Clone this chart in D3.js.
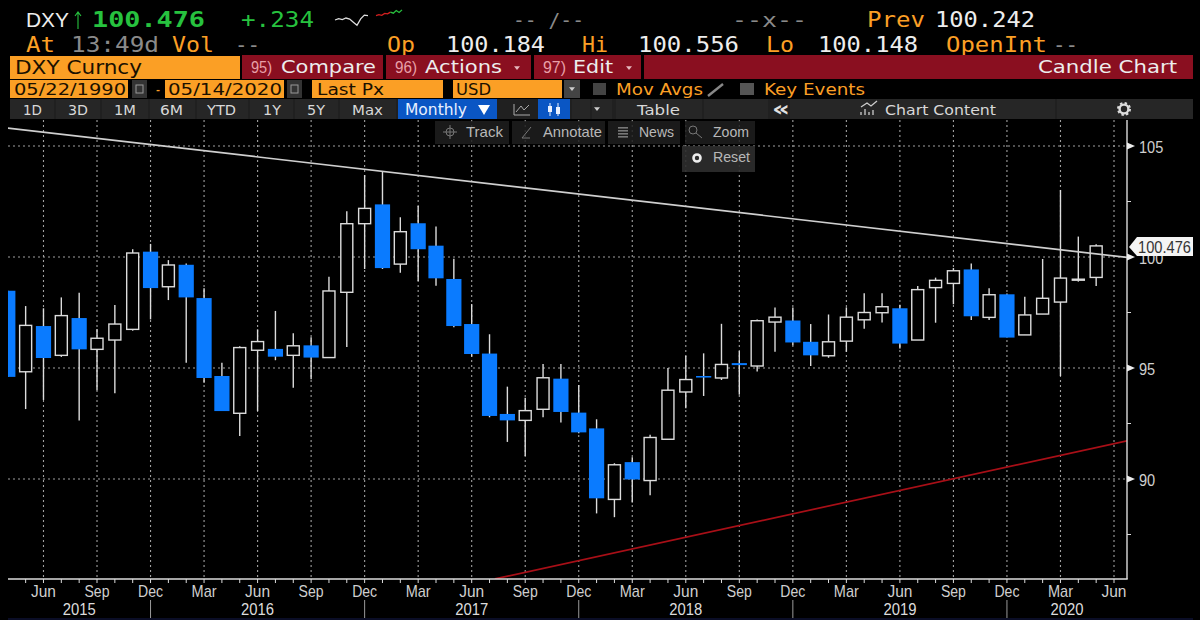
<!DOCTYPE html>
<html><head><meta charset="utf-8">
<script src="https://cdn.jsdelivr.net/npm/d3@7"></script>
<style>html,body{margin:0;padding:0;background:#000;overflow:hidden}svg{display:block}</style>
</head><body><svg id="c" width="1200" height="620"></svg>
<script>
// month labels, first candle = Apr 2015, last = May 2020
const months = ["Apr","May","Jun","Jul","Aug","Sep","Oct","Nov","Dec","Jan","Feb","Mar"];
const opens  = [98.48,94.83,96.89,95.57,97.25,95.84,96.26,96.74,100.24,98.66,99.65,98.15,94.64,92.96,95.80,95.86,95.57,
                96.02,95.47,98.41,101.50,102.37,99.68,101.52,100.51,99.01,96.98,95.65,92.93,92.64,93.14,94.52,92.99,92.28,
                89.08,90.76,89.93,91.79,93.92,94.64,94.55,95.22,95.09,97.07,97.14,96.18,95.55,96.21,97.17,97.49,97.69,
                96.26,98.62,98.81,99.44,97.28,98.32,96.49,97.43,97.97,98.96,99.08];
const closes = [94.60,96.92,95.45,97.36,95.84,96.34,96.98,100.18,98.60,99.64,98.18,94.55,93.06,95.92,96.19,95.51,96.00,
                95.47,98.47,101.50,102.19,99.50,101.14,100.35,99.04,96.89,95.63,92.84,92.64,93.08,94.56,93.02,92.10,89.13,
                90.64,89.98,91.87,94.00,94.48,94.57,95.16,95.13,97.13,97.29,96.15,95.57,96.18,97.29,97.50,97.76,96.10,
                98.53,98.95,99.38,97.33,98.30,96.37,97.39,98.14,99.05,99.00,100.50];
const highs  = [98.48,97.79,97.69,98.18,98.39,96.76,97.84,100.35,100.59,99.86,99.71,98.59,95.24,95.98,96.74,97.57,96.56,
                96.38,99.11,102.06,103.69,103.84,101.79,102.30,101.37,99.92,97.88,96.52,94.16,93.66,95.18,95.18,94.23,92.69,
                90.71,90.98,91.99,95.00,95.55,95.66,96.99,95.76,97.19,97.73,97.73,96.98,97.41,97.73,98.37,98.37,97.85,
                98.69,99.07,99.50,99.71,98.59,98.36,98.21,99.91,103.02,100.92,100.57];
const lows   = [94.60,93.15,93.56,95.50,92.63,94.00,93.86,96.68,97.19,98.06,95.24,94.34,93.06,91.94,93.06,95.35,94.11,
                94.49,95.47,95.95,99.46,99.46,99.29,98.92,98.71,96.83,95.51,92.78,91.67,91.04,92.78,92.54,92.06,88.45,
                88.28,88.94,89.27,91.79,93.19,93.74,94.46,93.80,94.84,95.73,96.03,95.09,95.46,95.73,96.77,97.05,95.88,
                96.26,97.04,97.87,97.16,97.16,96.37,96.49,97.43,94.64,98.89,98.69];
const yTicks = [105,100,95,90];
const yMinor = [102.5,97.5,92.5,87.5];
const monthTicks = ["Jun","Sep","Dec","Mar"];
const years = ["2015","2016","2017","2018","2019","2020"];
const whiteTrendIdx = [0,62.73], whiteTrendVal = [105.81,99.98];
const redTrendIdx = [27.3,62.73], redTrendVal = [85.5,91.72];
const sparkA = [5,5.6,5.2,5.9,5.4,4,2.6,5.5,7.2,7];
const sparkB = [7,7.4,7.1,8,7.8,8.6,8.1,9.3,8.4,9.6];
const lastPx = "100.476";

const ORANGE="#fb9f25", RED="#8a0f20", BLUE="#0a7bff", LINE="#dcdcdc", GREEN="#27c23f", GREY="#8a8a8a", WHITE="#ededed";
const svg=d3.select("#c");
svg.append("rect").attr("width",1200).attr("height",620).attr("fill","#000");

const x=d3.scaleLinear().domain([0,62]).range([7.8,1114]);
const y=d3.scaleLinear().domain([90,105]).range([479,146]);
const L=8,R=1127,B=579,T=120;
const idx=opens.map((_,i)=>i);
const mName=i=>months[i%12];

svg.append("clipPath").attr("id","plot").append("rect").attr("x",L).attr("y",T).attr("width",R-L).attr("height",B-T);

// grid
const grid=svg.append("g").attr("stroke","#a0a0a0").attr("stroke-width",1.1).attr("stroke-dasharray","2 3");
const tickIdx=d3.range(0,63).filter(i=>monthTicks.includes(mName(i)));
grid.selectAll(".v").data(tickIdx).join("line").attr("x1",x).attr("x2",x).attr("y1",T).attr("y2",B);
grid.selectAll(".h").data(yTicks).join("line").attr("x1",L).attr("x2",R).attr("y1",y).attr("y2",y);

// candles
const g=svg.append("g").attr("clip-path","url(#plot)");
g.selectAll(".w").data(idx).join("line").attr("x1",x).attr("x2",x)
 .attr("y1",i=>y(highs[i])).attr("y2",i=>y(lows[i])).attr("stroke",LINE).attr("stroke-width",1.4);
g.selectAll(".b").data(idx).join("rect")
 .attr("x",i=>x(i)-(closes[i]>=opens[i]?6:7.6))
 .attr("width",i=>closes[i]>=opens[i]?12:15.2)
 .attr("y",i=>y(Math.max(opens[i],closes[i])))
 .attr("height",i=>Math.max(1,Math.abs(y(opens[i])-y(closes[i]))))
 .attr("fill",i=>closes[i]>=opens[i]?"#000":BLUE)
 .attr("stroke",i=>closes[i]>=opens[i]?LINE:"none").attr("stroke-width",1.4);

// trend lines
const tl=d3.line().x(d=>x(d[0])).y(d=>y(d[1]));
g.append("path").attr("d",tl(d3.zip(whiteTrendIdx,whiteTrendVal))).attr("fill","none").attr("stroke","#cfcfcf").attr("stroke-width",1.7);
g.append("path").attr("d",tl(d3.zip(redTrendIdx,redTrendVal))).attr("fill","none").attr("stroke","#a80f17").attr("stroke-width",1.7);

// axes
svg.append("line").attr("x1",L).attr("x2",R+.7).attr("y1",B).attr("y2",B).attr("stroke",LINE).attr("stroke-width",1.4);
svg.append("line").attr("x1",R).attr("x2",R).attr("y1",T).attr("y2",B).attr("stroke",LINE).attr("stroke-width",1.4);
svg.append("g").selectAll("line").data(d3.range(1,63)).join("line")
 .attr("x1",x).attr("x2",x).attr("y1",B).attr("y2",B+4).attr("stroke",LINE).attr("stroke-width",1);
svg.append("g").selectAll("line").data(yMinor).join("line")
 .attr("x1",R).attr("x2",R+4).attr("y1",y).attr("y2",y).attr("stroke",LINE);
svg.append("g").selectAll("path").data(yTicks).join("path")
 .attr("d",d=>`M${R},${y(d)-3.5}L${R+8},${y(d)}L${R},${y(d)+3.5}Z`).attr("fill",WHITE);

const AX="'Liberation Sans'";
svg.append("g").selectAll("text").data(yTicks).join("text").attr("x",R+12).attr("y",d=>y(d)+6.5)
 .attr("font-family",AX).attr("font-size",17).attr("fill","#cfcfcf").attr("textLength",d=>String(d).length*8.1).attr("lengthAdjust","spacingAndGlyphs").text(d=>d);
svg.append("g").selectAll("text").data(tickIdx).join("text").attr("x",d=>x(d)-12.5).attr("y",597)
 .attr("font-family",AX).attr("font-size",17).attr("fill","#cfcfcf").attr("textLength",25).attr("lengthAdjust","spacingAndGlyphs").text(mName);
// year bands start at each December
const decIdx=tickIdx.filter(i=>mName(i)==="Dec");
svg.append("g").selectAll("line").data(decIdx).join("line").attr("x1",x).attr("x2",x).attr("y1",600).attr("y2",618).attr("stroke","#9a9a9a");
const edges=[L,...decIdx.map(d=>x(d)),R];
svg.append("g").selectAll("text").data(years).join("text").attr("x",(d,i)=>(edges[i]+edges[i+1])/2-16.5).attr("y",615)
 .attr("font-family",AX).attr("font-size",17).attr("fill","#dcdcdc").attr("textLength",33).attr("lengthAdjust","spacingAndGlyphs").text(d=>d);
svg.append("rect").attr("x",8).attr("y",618).attr("width",1185).attr("height",2).attr("fill","#0a0d26");

// last price flag
svg.append("path").attr("d","M1129,247L1137,237H1193V256H1137Z").attr("fill","#f4f4f4");
svg.append("text").attr("x",1138).attr("y",253).attr("font-family",AX).attr("font-size",17)
 .attr("textLength",53).attr("lengthAdjust","spacingAndGlyphs").attr("fill","#333").text(lastPx);

// header helpers
function box(a,b,t,bt,c,o){return svg.append("rect").attr("x",a).attr("width",b-a).attr("y",t).attr("height",bt-t).attr("fill",c).attr("opacity",o==null?1:o);}
function lab(s,a,b,base,size,c,fam,w){return svg.append("text").attr("x",a).attr("y",base).attr("font-family",fam||"'DejaVu Sans Mono'")
 .attr("font-size",size).attr("fill",c).attr("font-weight",w||"normal")
 .attr("textLength",b-a).attr("lengthAdjust","spacingAndGlyphs").text(s);}
const SANS="'DejaVu Sans'";

// row 1
lab("DXY",26,69,27,20.5,WHITE,AX);
svg.append("path").attr("d","M78,29V13M75,16L78,12L81,16").attr("fill","none").attr("stroke",GREEN).attr("stroke-width",1.1);
lab("100.476",92,205,27,21,GREEN,null,"bold");
lab("+.234",241,314,27,21,GREEN);
const sx=d3.scaleLinear().domain([0,9]).range([335,368]), sx2=d3.scaleLinear().domain([0,9]).range([376,402]);
const sy=d3.scaleLinear().domain([0,10]).range([31,9]);
const sl=d3.line().y(d=>sy(d));
svg.append("path").attr("fill","none").attr("stroke","#ddd").attr("stroke-width",1.3).attr("d",sl.x((d,i)=>sx(i))(sparkA));
svg.append("path").attr("fill","none").attr("stroke","#d41f1f").attr("stroke-width",1.3).attr("d",sl.x((d,i)=>sx2(i))(sparkB.slice(0,6)));
svg.append("path").attr("fill","none").attr("stroke",GREEN).attr("stroke-width",1.3).attr("d",sl.x((d,i)=>sx2(i+5))(sparkB.slice(5)));
lab("-- /--",513,584,27,20,GREY);
lab("--x--",732,807,27,20,GREY);
lab("Prev",867,925,27,20.5,ORANGE);
lab("100.242",935,1035,27,20.5,WHITE);
// row 2
lab("At",26,55,52,20.5,ORANGE);
lab("13:49d",71,159,52,20.5,GREY);
lab("Vol",172,214,52,20.5,ORANGE);
lab("--",235,260,52,20.5,GREY);
lab("Op",387,415,52,20.5,ORANGE);
lab("100.184",446,545,52,20.5,WHITE);
lab("Hi",582,608,52,20.5,ORANGE);
lab("100.556",638,739,52,20.5,WHITE);
lab("Lo",766,794,52,20.5,ORANGE);
lab("100.148",818,918,52,20.5,WHITE);
lab("OpenInt",946,1047,52,20.5,ORANGE);
lab("--",1053,1078,52,20.5,GREY);
// row 3
box(10,240,56,79,ORANGE);
lab("DXY Curncy",15,142,74,20,"#1a1000",SANS);
box(242,383,55,79,RED);box(386,531,55,79,RED);box(534,641,55,79,RED);box(644,1193,55,79,RED);
lab("95)",251,272,73,16,"#e8a0a8",AX);lab("Compare",281,376,73,18.5,WHITE,SANS);
lab("96)",395,417,73,16,"#e8a0a8",AX);lab("Actions",425,502,73,18,WHITE,SANS);
lab("97)",543,566,73,16,"#e8a0a8",AX);lab("Edit",573,613,73,18,WHITE,SANS);
const arrow=(cx,cy,c,s)=>svg.append("path").attr("d",`M${cx-s},${cy-s*.6}H${cx+s}L${cx},${cy+s*.7}Z`).attr("fill",c);
arrow(517,68,"#e6b8bd",3);arrow(629,68,"#e6b8bd",3);
lab("Candle Chart",1038,1177,73,18,WHITE,SANS);
// row 4
box(10,128,80,98,ORANGE);lab("05/22/1990",14,126,95,16,"#1a1000",SANS);
box(132,147,80,98,"#333");
box(165,284,80,98,ORANGE);lab("05/14/2020",168,282,95,16,"#1a1000",SANS);
box(287,302,80,98,"#333");
[[136,143],[291,298]].forEach(d=>svg.append("rect").attr("x",d[0]).attr("y",85).attr("width",d[1]-d[0]).attr("height",8).attr("fill","none").attr("stroke","#999"));
lab("-",156,160,95,16,ORANGE,SANS);
box(312,443,80,98,ORANGE);lab("Last Px",317,384,95,16,"#1a1000",SANS);
box(453,562,80,98,ORANGE);lab("USD",456,491,95,16,"#1a1000",SANS);
box(564,580,80,98,"#444");arrow(572,89,"#ccc",3);
box(593,606,83,95,"#444");
lab("Mov Avgs",616,703,95,16,ORANGE,SANS);
svg.append("line").attr("x1",708).attr("x2",723).attr("y1",96).attr("y2",84).attr("stroke","#888").attr("stroke-width",2.5);
box(740,754,83,95,"#555");
lab("Key Events",764,865,95,16,ORANGE,SANS);
// row 5
box(10,1193,99,119,"#202020");
[[10,54],[56,100],[102,148],[150,195],[197,248],[250,293],[295,338],[340,396],[572,590],[592,612],[616,702],[704,768],[790,1055],[1057,1193]].forEach(d=>box(d[0],d[1],99,119,"#262626"));
[["1D",23,42],["3D",68,88],["1M",114,136],["6M",160,183],["YTD",207,236],["1Y",263,281],["5Y",307,325],["Max",352,383]].forEach(d=>lab(d[0],d[1],d[2],115,14.5,"#d8d8d8",SANS));
box(398,497,99,119,"#0a56c4");
lab("Monthly",405,467,115,15,"#e8f0ff",SANS);
svg.append("path").attr("d","M478,105H490L484,115Z").attr("fill","#fff");
svg.append("path").attr("d","M514,115H530M514,104V115M516,112L521,106L524,110L529,105").attr("fill","none").attr("stroke","#aaa");
box(538,570,99,119,"#0a56c4");
svg.append("path").attr("d","M550,103V116M558,103V116").attr("stroke","#e8f0ff");
box(548,552,106,112,"#e8f0ff");box(556,560,107,114,"#e8f0ff");
arrow(597,109,"#ccc",3);
lab("Table",637,680,115,14.5,"#d8d8d8",SANS);
lab("«",772,790,116,21,"#e0e0e0",SANS,"bold");
svg.append("path").attr("d","M861,115V112M865,115V109M869,115V112M873,115V110M861,107L867,103L871,106L877,101").attr("fill","none").attr("stroke","#ccc").attr("stroke-width",1.3);
lab("Chart Content",885,996,115,14.5,"#d8d8d8",SANS);
svg.append("circle").attr("cx",1124).attr("cy",109).attr("r",4.4).attr("fill","none").attr("stroke","#ddd").attr("stroke-width",2.4);
svg.append("circle").attr("cx",1124).attr("cy",109).attr("r",6).attr("fill","none").attr("stroke","#ddd").attr("stroke-width",2).attr("stroke-dasharray","2.4 2.3");
// row 6
const BTN="#1e1e1e";
box(435,509,121,144,BTN,.85);box(512,605,121,144,BTN,.85);box(608,680,121,144,BTN,.85);box(685,755,121,144,BTN,.85);box(682,755,146,172,"#2e2e2e",.9);
svg.append("circle").attr("cx",450).attr("cy",132).attr("r",4).attr("fill","none").attr("stroke","#777");
svg.append("path").attr("d","M450,125V139M443,132H457").attr("stroke","#777");
lab("Track",466,503,137,15,"#b8b8b8",AX);
svg.append("path").attr("d","M522,138L531,127M522,138H530").attr("stroke","#777").attr("fill","none");
lab("Annotate",543,602,137,15,"#b8b8b8",AX);
[127,130,133,136].forEach(v=>box(618,628,v,v+1.6,"#777"));
lab("News",639,674,137,15,"#b8b8b8",AX);
svg.append("circle").attr("cx",693).attr("cy",130).attr("r",4).attr("fill","none").attr("stroke","#777");
svg.append("line").attr("x1",696).attr("y1",133).attr("x2",702).attr("y2",138).attr("stroke","#777");
lab("Zoom",713,749,137,15,"#b8b8b8",AX);
svg.append("circle").attr("cx",697).attr("cy",158).attr("r",3.5).attr("fill","#2e2e2e").attr("stroke","#eee").attr("stroke-width",2.6);
lab("Reset",713,750,162,15,"#b8b8b8",AX);
</script></body></html>
